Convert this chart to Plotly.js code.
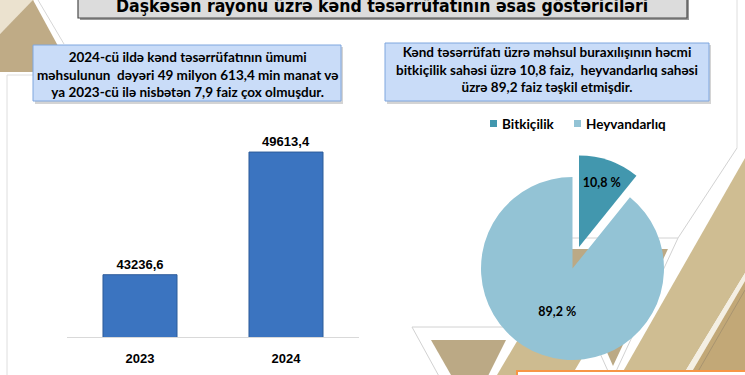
<!DOCTYPE html>
<html>
<head>
<meta charset="utf-8">
<script src="https://cdn.plot.ly/plotly-3.0.1.min.js"></script>
<style>html,body{margin:0;padding:0;background:#fff;overflow:hidden}#chart{width:745px;height:375px}</style>
</head>
<body>
<div id="chart"></div>
<script>
// ---- data ----
const years = ['2023', '2024'];
const output = [43236.6, 49613.4];
const sectors = ['Bitkiçilik', 'Heyvandarlıq'];
const shares = [10.8, 89.2];
const sectorColors = ['#4297ae', '#93c3d5'];
const titleText = 'Daşkəsən rayonu üzrə kənd təsərrüfatının əsas göstəriciləri';
const note1 = ['2024-cü ildə kənd təsərrüfatının ümumi', 'məhsulunun  dəyəri 49 milyon 613,4 min manat və', 'ya 2023-cü ilə nisbətən 7,9 faiz çox olmuşdur.'];
const note2 = ['Kənd təsərrüfatı üzrə məhsul buraxılışının həcmi', 'bitkiçilik sahəsi üzrə 10,8 faiz,  heyvandarlıq sahəsi', 'üzrə 89,2 faiz təşkil etmişdir.'];

const W = 745, H = 375;
const X = x => x / W, Y = y => 1 - y / H;
const path = pts => 'M' + pts.map(p => X(p[0]).toFixed(4) + ',' + Y(p[1]).toFixed(4)).join(' L') + ' Z';
const poly = (pts, fill, line, lw, layer) => ({type: 'path', xref: 'paper', yref: 'paper', path: path(pts), fillcolor: fill, line: {color: line || 'rgba(0,0,0,0)', width: lw || 0}, layer: layer || 'below'});
const seg = (a, b, color, w) => ({type: 'line', xref: 'paper', yref: 'paper', x0: X(a[0]), y0: Y(a[1]), x1: X(b[0]), y1: Y(b[1]), line: {color: color, width: w || 1}, layer: 'below'});
const rect = (x0, y0, x1, y1, fill, line, lw) => ({type: 'rect', xref: 'paper', yref: 'paper', x0: X(x0), y0: Y(y1), x1: X(x1), y1: Y(y0), fillcolor: fill, line: {color: line, width: lw}, layer: 'below'});

const shapes = [
  // top-left decoration
  poly([[0,0],[34,0],[0,34]], '#ebe2cf'),
  poly([[0,34],[33,0],[58,46],[58,72],[0,72]], '#bfab86'),
  seg([38,0],[64,44], '#d6d6d6', 1),
  // panel borders
  seg([7,75],[7,375], '#dedede', 1),
  seg([7,75],[33,75], '#dedede', 1),
  seg([737,0],[737,148], '#dedede', 1),
  seg([737,148],[678,238], '#d2d2d2', 1),
  // bottom-right decorations
  poly([[412,327],[532,327],[474,440]], '#ffffff', '#d2d2d2', 1),
  poly([[431,340],[506,340],[471,410]], '#bba985'),
  poly([[497,375],[572,375],[646,250],[571,250]], '#cdbb90'),
  poly([[548,238],[678,238],[612,380]], '#ffffff', '#d2d2d2', 1),
  poly([[562,249],[668,249],[613,366]], '#bba985'),
  poly([[745,158],[745,273],[683,375],[621,375]], '#cfbd92'),
  poly([[745,273],[745,281],[690,375],[683,375]], '#f4efe3'),
  poly([[745,281],[745,375],[690,375]], '#c2a877'),
  seg([745,290],[696,375], '#a89470', 1),
  // bottom orange box
  rect(517, 371, 746, 380, '#ffffff', '#f79646', 2),
  // text boxes (with soft shadow)
  rect(35, 47, 343, 104, '#d4d4d4', 'rgba(0,0,0,0)', 0),
  rect(33, 45, 341, 101, '#c9dcf8', '#7fa6de', 1),
  rect(387, 45, 711, 104, '#d4d4d4', 'rgba(0,0,0,0)', 0),
  rect(385, 43, 709, 101, '#c9dcf8', '#7fa6de', 1),
  // title box
  rect(80, -4, 689, 20, '#9a9a9a', 'rgba(0,0,0,0)', 0),
  rect(78, -6, 687, 18, '#dcdcdc', '#4a4a4a', 1.2),
  // legend markers
  rect(490, 120, 497, 127, sectorColors[0], sectorColors[0], 0),
  rect(574, 120, 581, 127, sectorColors[1], sectorColors[1], 0)
];

const boxFont = {family: 'Lato, Calibri, "Open Sans", sans-serif', size: 13.5, color: '#000'};
const annotations = [
  {text: '<b>' + titleText + '</b>', x: X(382), y: Y(6), xref: 'paper', yref: 'paper', showarrow: false, xanchor: 'center', yanchor: 'middle',
   font: {family: '"Liberation Sans Narrow", "Arial Narrow", "DejaVu Sans Condensed", sans-serif', size: 17.5, color: '#000'}},
  {text: note1.map(s => '<b>' + s + '</b>').join('<br>'), x: X(187), y: Y(74), xref: 'paper', yref: 'paper', showarrow: false, xanchor: 'center', yanchor: 'middle', align: 'center', font: boxFont},
  {text: note2.map(s => '<b>' + s + '</b>').join('<br>'), x: X(547), y: Y(70), xref: 'paper', yref: 'paper', showarrow: false, xanchor: 'center', yanchor: 'middle', align: 'center', font: boxFont},
  {text: '<b>' + sectors[0] + '</b>', x: X(500), y: Y(124), xref: 'paper', yref: 'paper', showarrow: false, xanchor: 'left', yanchor: 'middle', font: boxFont},
  {text: '<b>' + sectors[1] + '</b>', x: X(584), y: Y(124), xref: 'paper', yref: 'paper', showarrow: false, xanchor: 'left', yanchor: 'middle', font: boxFont}
];

const pieFont = {family: 'Lato, Calibri, sans-serif', size: 12.5, color: '#000'};
const traces = [
  {type: 'bar', x: years, y: output, xaxis: 'x', yaxis: 'y',
   marker: {color: '#3b74c0', line: {color: '#2d5c99', width: 1}},
   texttemplate: '<b>%{y:.1f}</b>', textposition: 'outside', cliponaxis: false,
   textfont: {family: '"Liberation Sans", Arial, sans-serif', size: 13, color: '#000'},
   hoverinfo: 'none', showlegend: false},
  // big slice
  {type: 'pie', labels: sectors, values: shares, sort: false, direction: 'clockwise', rotation: 0,
   domain: {x: [X(481), X(664)], y: [Y(360), Y(177)]},
   marker: {colors: ['rgba(0,0,0,0)', sectorColors[1]], line: {width: 0}},
   texttemplate: ['', '<b>%{value:.1f} %</b>'], textposition: 'inside', insidetextorientation: 'horizontal',
   textfont: pieFont, hoverinfo: 'none', showlegend: false},
  // pulled small slice
  {type: 'pie', labels: sectors, values: shares, sort: false, direction: 'clockwise', rotation: 0,
   domain: {x: [X(487.5), X(670.5)], y: [Y(338.5), Y(155.5)]},
   marker: {colors: [sectorColors[0], 'rgba(0,0,0,0)'], line: {width: 0}},
   texttemplate: ['<b>%{value:.1f} %</b>', ''], textposition: 'inside', insidetextorientation: 'horizontal',
   textfont: pieFont, hoverinfo: 'none', showlegend: false}
];

const layout = {
  width: W, height: H, margin: {l: 0, r: 0, t: 0, b: 0},
  paper_bgcolor: '#ffffff', plot_bgcolor: 'rgba(0,0,0,0)',
  separators: ', ', showlegend: false,
  bargap: 0.493,
  xaxis: {domain: [X(67), X(359)], type: 'category', showline: true, linecolor: '#d9d9d9', linewidth: 1,
          ticks: '', ticklabelstandoff: 9, showgrid: false, zeroline: false, fixedrange: true,
          tickfont: {family: '"Liberation Sans", Arial, sans-serif', size: 13, color: '#000', weight: 'bold'}},
  yaxis: {domain: [Y(337), Y(140)], range: [40000, 50240], showgrid: false, zeroline: false, showline: false,
          showticklabels: false, ticks: '', fixedrange: true},
  shapes: shapes, annotations: annotations
};

Plotly.newPlot('chart', traces, layout, {staticPlot: true, displayModeBar: false});
</script>
</body>
</html>
